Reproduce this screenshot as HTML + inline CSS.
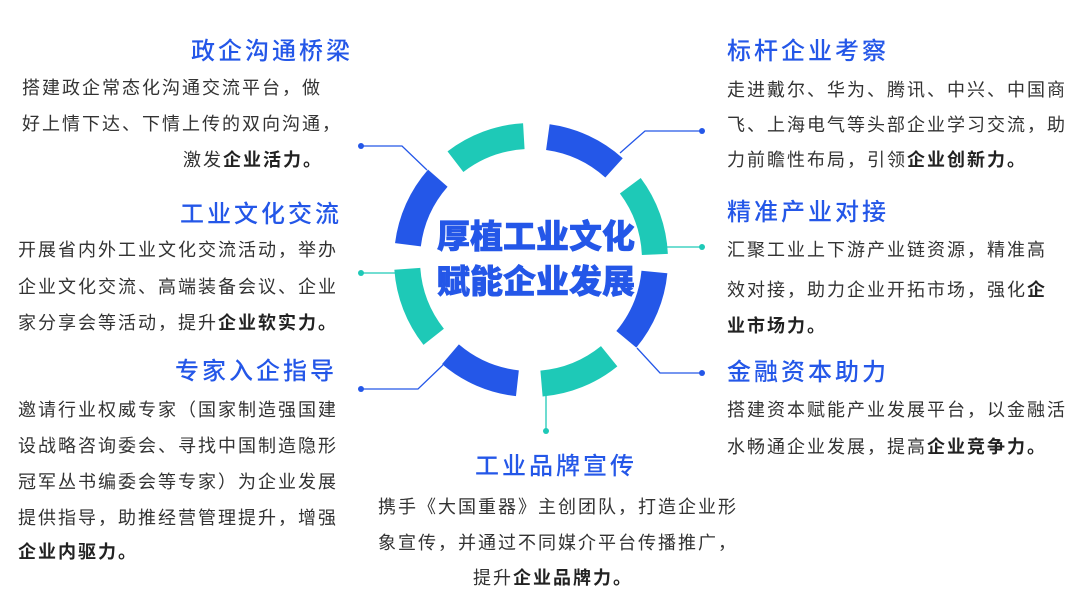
<!DOCTYPE html>
<html><head><meta charset="utf-8"><style>
body{margin:0;width:1080px;height:608px;background:#fff;position:relative;overflow:hidden;font-family:"Liberation Sans","Noto Sans CJK SC",sans-serif;}
.t{position:absolute;color:#2457e8;font-size:24px;letter-spacing:3px;white-space:nowrap;line-height:30px;font-weight:500}
.l{position:absolute;color:#333;font-size:18px;letter-spacing:2px;white-space:nowrap;line-height:24px}
.l b{color:#222;font-weight:700}
.c{position:absolute;left:336px;width:400px;text-align:center;color:#2457e8;font-size:33px;font-weight:900;line-height:40px;white-space:nowrap;-webkit-text-stroke:0.6px #2457e8}
</style></head><body>
<svg width="1080" height="608" style="position:absolute;left:0;top:0">
<circle cx="531" cy="260" r="124" fill="none" stroke="#2457e8" stroke-width="26" stroke-dasharray="74 122.35" stroke-dashoffset="-12"/>
<circle cx="531" cy="260" r="124" fill="none" stroke="#1ec9b7" stroke-width="26" stroke-dasharray="74 122.35" stroke-dashoffset="-110.17"/>
<g fill="none" stroke-width="1.3">
<polyline points="361,146 402,146 427,170" stroke="#2457e8"/>
<polyline points="361,273 398,273" stroke="#1ec9b7"/>
<polyline points="361,389 418,389 443,365" stroke="#2457e8"/>
<polyline points="702,131 645,131 620,153" stroke="#2457e8"/>
<polyline points="702,247 664,247" stroke="#1ec9b7"/>
<polyline points="702,373 660,373 637,348" stroke="#2457e8"/>
<polyline points="546,393 546,431" stroke="#1ec9b7"/>
</g>
<circle cx="361" cy="146" r="3" fill="#2457e8"/>
<circle cx="361" cy="273" r="3" fill="#1ec9b7"/>
<circle cx="361" cy="389" r="3" fill="#2457e8"/>
<circle cx="702" cy="131" r="3" fill="#2457e8"/>
<circle cx="702" cy="247" r="3" fill="#1ec9b7"/>
<circle cx="702" cy="373" r="3" fill="#2457e8"/>
<circle cx="546" cy="431" r="3" fill="#1ec9b7"/>
</svg>
<div class="c" style="top:217px">厚植工业文化</div>
<div class="c" style="top:262px">赋能企业发展</div>

<div class="t" style="left:191px;top:37px">政企沟通桥梁</div>
<div class="l" style="left:22px;top:76px">搭建政企常态化沟通交流平台，做</div>
<div class="l" style="left:22px;top:112px">好上情下达、下情上传的双向沟通，</div>
<div class="l" style="left:183px;top:148px">激发<b>企业活力。</b></div>

<div class="t" style="left:180px;top:200px">工业文化交流</div>
<div class="l" style="left:18px;top:238px">开展省内外工业文化交流活动，举办</div>
<div class="l" style="left:18px;top:275px">企业文化交流、高端装备会议、企业</div>
<div class="l" style="left:18px;top:311px">家分享会等活动，提升<b>企业软实力。</b></div>

<div class="t" style="left:175px;top:357px">专家入企指导</div>
<div class="l" style="left:18px;top:398px">邀请行业权威专家（国家制造强国建</div>
<div class="l" style="left:18px;top:434px">设战略咨询委会、寻找中国制造隐形</div>
<div class="l" style="left:18px;top:470px">冠军丛书编委会等专家）为企业发展</div>
<div class="l" style="left:18px;top:506px">提供指导，助推经营管理提升，增强</div>
<div class="l" style="left:18px;top:540px"><b>企业内驱力。</b></div>

<div class="t" style="left:727px;top:37px">标杆企业考察</div>
<div class="l" style="left:727px;top:78px">走进戴尔、华为、腾讯、中兴、中国商</div>
<div class="l" style="left:727px;top:113px">飞、上海电气等头部企业学习交流，助</div>
<div class="l" style="left:727px;top:148px">力前瞻性布局，引领<b>企业创新力。</b></div>

<div class="t" style="left:727px;top:198px">精准产业对接</div>
<div class="l" style="left:727px;top:238px">汇聚工业上下游产业链资源，精准高</div>
<div class="l" style="left:727px;top:278px">效对接，助力企业开拓市场，强化<b>企</b></div>
<div class="l" style="left:727px;top:314px"><b>业市场力。</b></div>

<div class="t" style="left:727px;top:358px">金融资本助力</div>
<div class="l" style="left:727px;top:398px">搭建资本赋能产业发展平台，以金融活</div>
<div class="l" style="left:727px;top:435px">水畅通企业发展，提高<b>企业竞争力。</b></div>

<div class="t" style="left:475px;top:452px">工业品牌宣传</div>
<div class="l" style="left:378px;top:495px">携手《大国重器》主创团队，打造企业形</div>
<div class="l" style="left:378px;top:531px">象宣传，并通过不同媒介平台传播推广，</div>
<div class="l" style="left:473px;top:566px">提升<b>企业品牌力。</b></div>
</body></html>
